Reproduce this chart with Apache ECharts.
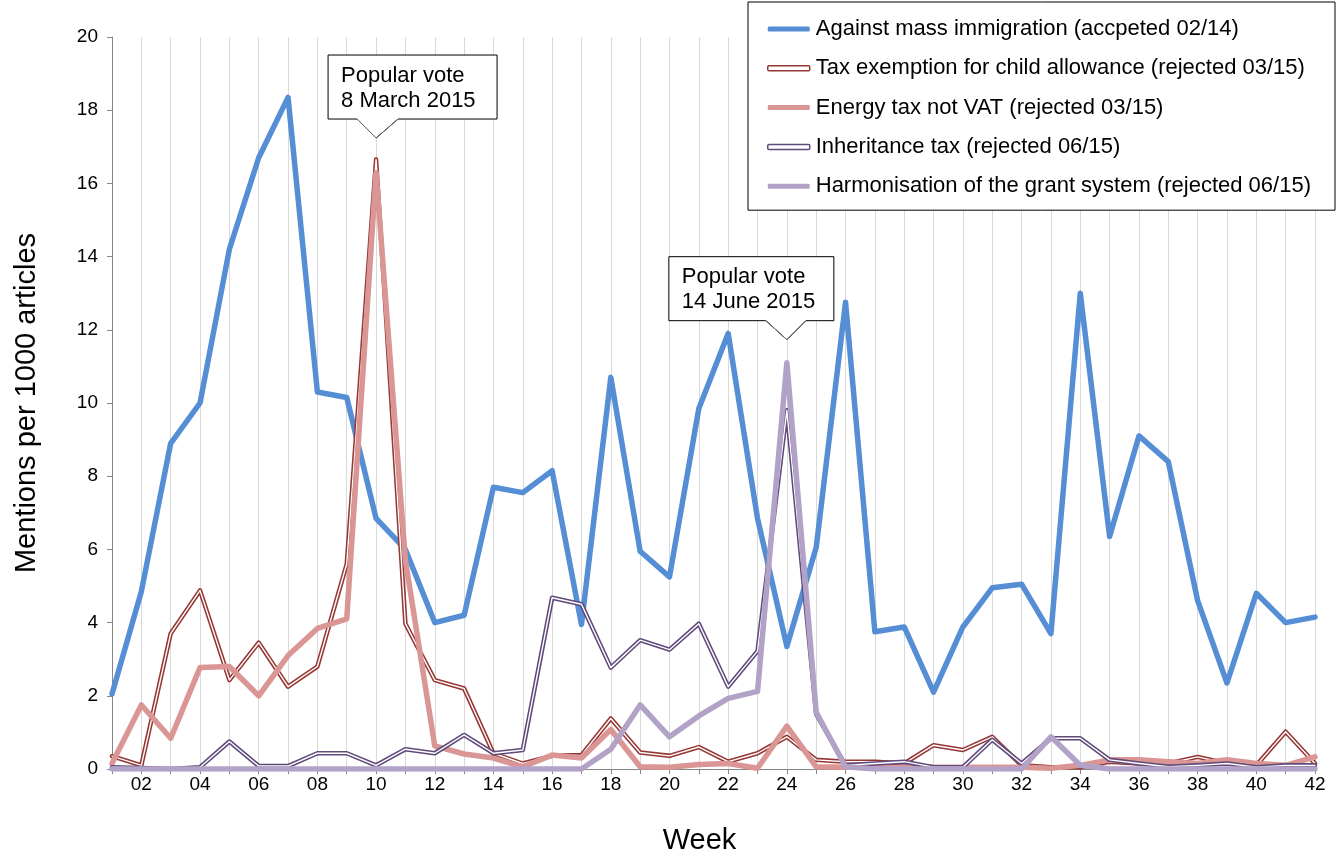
<!DOCTYPE html>
<html>
<head>
<meta charset="utf-8">
<script src="https://cdn.jsdelivr.net/npm/echarts@6/dist/echarts.min.js"></script>
<style>
html,body{margin:0;padding:0;background:#fff;}
#chart{width:1341px;height:855px;}
</style>
</head>
<body>
<div id="chart"></div>
<script>
const weeks = ['01','02','03','04','05','06','07','08','09','10','11','12','13','14','15','16','17','18','19','20','21','22','23','24','25','26','27','28','29','30','31','32','33','34','35','36','37','38','39','40','41','42'];

const seriesNames = [
  'Against mass immigration (accpeted 02/14)',
  'Tax exemption for child allowance (rejected 03/15)',
  'Energy tax not VAT (rejected 03/15)',
  'Inheritance tax (rejected 06/15)',
  'Harmonisation of the grant system (rejected 06/15)'
];

const massImmigration = [2.05,4.85,8.9,10.0,14.2,16.7,18.35,10.3,10.15,6.85,6.0,4.0,4.2,7.7,7.55,8.15,3.95,10.7,5.95,5.25,9.85,11.9,6.85,3.35,6.05,12.75,3.75,3.88,2.1,3.88,4.95,5.05,3.7,13.0,6.35,9.1,8.4,4.6,2.35,4.8,4.0,4.15];

const childAllowance = [0.35,0.1,3.7,4.88,2.43,3.45,2.25,2.8,5.6,16.65,3.97,2.43,2.2,0.43,0.15,0.36,0.38,1.38,0.45,0.36,0.6,0.2,0.43,0.88,0.25,0.2,0.2,0.15,0.65,0.52,0.88,0.1,0.05,0.05,0.2,0.15,0.15,0.33,0.15,0.1,1.02,0.15];

const energyTax = [0.15,1.75,0.84,2.77,2.8,2.0,3.1,3.84,4.1,16.3,5.7,0.63,0.41,0.3,0.06,0.38,0.3,1.08,0.06,0.05,0.12,0.15,0.02,1.17,0.06,0.05,0.05,0.05,0.05,0.05,0.05,0.05,0.02,0.1,0.25,0.25,0.2,0.15,0.25,0.15,0.1,0.33];

const inheritanceTax = [0.05,0.03,0,0.05,0.75,0.08,0.08,0.43,0.43,0.1,0.54,0.43,0.93,0.43,0.52,4.68,4.5,2.77,3.52,3.26,3.97,2.25,3.22,9.8,1.5,0.1,0.15,0.2,0.05,0.05,0.8,0.15,0.84,0.84,0.25,0.15,0.06,0.1,0.15,0.05,0.1,0.1];

const grantSystem = [0,0,0,0,0,0,0,0,0,0,0,0,0,0,0,0,0,0.54,1.75,0.88,1.45,1.93,2.12,11.1,1.55,0.06,0,0,0,0,0,0,0.88,0.1,0,0,0,0,0,0,0,0];

const yTicks = {min:0, max:20, interval:2};

const callouts = [
  {week:'10', value:17.24, text:'Popular vote\n8 March 2015', boxLeft:-48, boxRight:121, baseL:-19, baseR:22},
  {week:'24', value:11.73, text:'Popular vote\n14 June 2015', boxLeft:-118, boxRight:47, baseL:-21, baseR:19}
];

const FONT = 'Liberation Sans, Arial, sans-serif';
const C_BLUE = '#558ED5';
const C_TAX = '#953735';
const C_ENERGY = '#D99694';
const C_INH = '#604A7B';
const C_GRANT = '#B3A2C7';

const chart = echarts.init(document.getElementById('chart'), null, {renderer:'canvas'});

function lineSeries(name, data, color, width, extra) {
  return Object.assign({
    name: name, type: 'line', data: data, symbol: 'none', smooth: false,
    lineStyle: {color: color, width: width, join: 'round', cap: 'round'},
    itemStyle: {color: color},
    emphasis: {disabled: true}, silent: true
  }, extra || {});
}

const option = {
  animation: false,
  backgroundColor: '#fff',
  textStyle: {fontFamily: FONT},
  grid: {left: 112, right: 26, top: 37, bottom: 86, containLabel: false, outerBoundsMode: 'none'},
  legend: {
    orient: 'vertical', left: 748, top: 2,
    backgroundColor: '#fff',
    borderColor: '#000', borderWidth: 1,
    padding: [15, 24, 12, 19],
    itemGap: 15.3, itemWidth: 42, itemHeight: 5,
    selectedMode: false,
    textStyle: {fontSize: 22, color: '#000', fontFamily: FONT, lineHeight: 24, padding:[0,0,0,1]},
    data: [
      {name: seriesNames[0], icon: 'roundRect', itemStyle: {color: C_BLUE, borderWidth: 0}},
      {name: seriesNames[1], icon: 'roundRect', itemStyle: {color: '#fff', borderColor: C_TAX, borderWidth: 1.5}},
      {name: seriesNames[2], icon: 'roundRect', itemStyle: {color: C_ENERGY, borderWidth: 0}},
      {name: seriesNames[3], icon: 'roundRect', itemStyle: {color: '#fff', borderColor: C_INH, borderWidth: 1.5}},
      {name: seriesNames[4], icon: 'roundRect', itemStyle: {color: C_GRANT, borderWidth: 0}}
    ]
  },
  xAxis: {
    type: 'category', data: weeks, boundaryGap: false,
    name: 'Week', nameLocation: 'middle', nameGap: 57,
    nameTextStyle: {fontSize: 29, color: '#000', fontFamily: FONT, padding: [0, 28, 0, 0]},
    axisLine: {show: true, lineStyle: {color: '#868686', width: 1}},
    axisTick: {show: true, interval: 0, length: 5, lineStyle: {color: '#868686'}},
    axisLabel: {
      interval: function (i) { return i % 2 === 1; },
      fontSize: 19, color: '#000', margin: 6, fontFamily: FONT
    },
    splitLine: {show: true, interval: 0, lineStyle: {color: '#D9D9D9', width: 1}}
  },
  yAxis: {
    type: 'value', min: yTicks.min, max: yTicks.max, interval: yTicks.interval,
    name: 'Mentions per 1000 articles', nameLocation: 'middle', nameGap: 71, nameRotate: 90,
    nameTextStyle: {fontSize: 29, color: '#000', fontFamily: FONT},
    axisLine: {show: true, lineStyle: {color: '#868686', width: 1}},
    axisTick: {show: true, length: 5, inside: false, lineStyle: {color: '#868686'}},
    axisLabel: {fontSize: 19, color: '#000', margin: 14, fontFamily: FONT},
    splitLine: {show: false}
  },
  series: [
    lineSeries(seriesNames[0], massImmigration, C_BLUE, 5.5),
    lineSeries(seriesNames[1], childAllowance, C_TAX, 4.5),
    lineSeries('_taxInner', childAllowance, '#fff', 1.4),
    lineSeries(seriesNames[2], energyTax, C_ENERGY, 5.5),
    lineSeries(seriesNames[3], inheritanceTax, C_INH, 4.5),
    lineSeries('_inhInner', inheritanceTax, '#fff', 1.4),
    lineSeries(seriesNames[4], grantSystem, C_GRANT, 5.5)
  ]
};

chart.setOption(option);

const graphics = [];
callouts.forEach(function (c) {
  const p = chart.convertToPixel({xAxisIndex: 0, yAxisIndex: 0}, [c.week, c.value]);
  const ax = p[0], ay = p[1];
  const top = ay - 83, bottom = ay - 19;
  const l = ax + c.boxLeft, r = ax + c.boxRight;
  graphics.push({
    type: 'polygon', z: 100,
    shape: {points: [[l, top], [r, top], [r, bottom], [ax + c.baseR, bottom], [ax, ay], [ax + c.baseL, bottom], [l, bottom]]},
    style: {fill: '#fff', stroke: '#000', lineWidth: 1}
  });
  graphics.push({
    type: 'polyline', z: 101,
    shape: {points: [[ax + c.baseL, bottom], [ax, ay], [ax + c.baseR, bottom]]},
    style: {stroke: '#6e6e6e', lineWidth: 1, fill: null}
  });
  graphics.push({
    type: 'text', z: 102,
    x: l + 13, y: top + 8,
    style: {text: c.text, font: '22px ' + FONT, fill: '#000', lineHeight: 25}
  });
});
chart.setOption({graphic: graphics});
</script>
</body>
</html>
